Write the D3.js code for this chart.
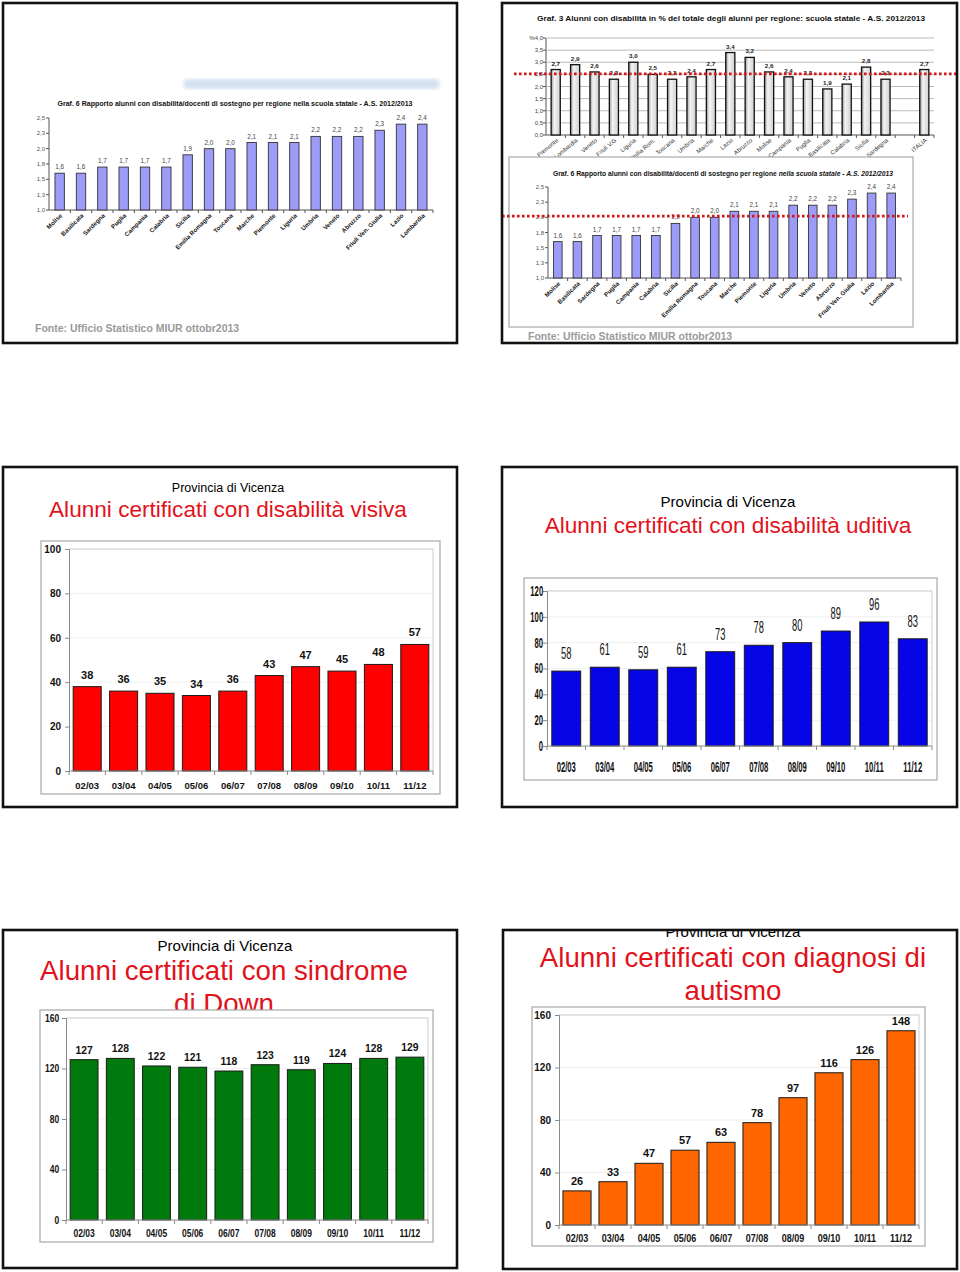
<!DOCTYPE html>
<html><head><meta charset="utf-8">
<script src="https://cdn.jsdelivr.net/npm/d3@7"></script>
<style>
body{margin:0;background:#fff}
svg{display:block}
text{font-family:"Liberation Sans",Arial,Helvetica,sans-serif}
</style>
</head><body>
<svg id="c" width="960" height="1272"></svg>
<script>
// ---------- DATA ----------
const regionsRatio = ["Molise","Basilicata","Sardegna","Puglia","Campania","Calabria","Sicilia","Emilia Romagna","Toscana","Marche","Piemonte","Liguria","Umbria","Veneto","Abruzzo","Friuli Ven. Giulia","Lazio","Lombardia"];
const ratioValues = [1.6,1.6,1.7,1.7,1.7,1.7,1.9,2.0,2.0,2.1,2.1,2.1,2.2,2.2,2.2,2.3,2.4,2.4];
const ratioTicks = [1.0,1.25,1.5,1.75,2.0,2.25,2.5];
const ratioRefLine = 2.02;

const regionsPct = ["Piemonte","Lombardia","Veneto","Friuli V.G","Liguria","Emilia Rom.","Toscana","Umbria","Marche","Lazio","Abruzzo","Molise","Campania","Puglia","Basilicata","Calabria","Sicilia","Sardegna","","ITALIA"];
const pctValues = [2.7,2.9,2.6,2.3,3.0,2.5,2.3,2.4,2.7,3.4,3.2,2.6,2.4,2.3,1.9,2.1,2.8,2.3,null,2.7];
const pctTicks = [0,0.5,1.0,1.5,2.0,2.5,3.0,3.5,4.0];
const pctRefLine = 2.52;

const years = ["02/03","03/04","04/05","05/06","06/07","07/08","08/09","09/10","10/11","11/12"];
const visiva  = [38,36,35,34,36,43,47,45,48,57];
const uditiva = [58,61,59,61,73,78,80,89,96,83];
const down    = [127,128,122,121,118,123,119,124,128,129];
const autismo = [26,33,47,57,63,78,97,116,126,148];

const titleRatio = "Graf. 6 Rapporto alunni con disabilità/docenti di sostegno per regione nella scuola statale - A.S. 2012/2013";
const titlePct = "Graf. 3 Alunni con disabilità in % del totale degli alunni per regione: scuola statale - A.S. 2012/2013";
const fonte = "Fonte: Ufficio Statistico MIUR ottobr2013";
const provincia = "Provincia di Vicenza";

// ---------- HELPERS ----------
const svg = d3.select("#c");
const defs = svg.append("defs");
const it = d3.formatLocale({decimal:",",thousands:".",grouping:[3],currency:["€",""]});
const f1 = it.format(".1f");
let clipN = 0;
const borders = [];

defs.append("filter").attr("id","blur").append("feGaussianBlur").attr("stdDeviation",2);
const grad = defs.append("linearGradient").attr("id","gbar").attr("x1","0").attr("x2","1").attr("y1","0").attr("y2","0");
grad.append("stop").attr("offset","0").attr("stop-color","#9a9a9a");
grad.append("stop").attr("offset","0.35").attr("stop-color","#f4f4f4");
grad.append("stop").attr("offset","1").attr("stop-color","#cfcfcf");

function panel(x0,y0,x1,y1){
  const id = "clip"+(clipN++);
  defs.append("clipPath").attr("id",id).append("rect").attr("x",x0).attr("y",y0).attr("width",x1-x0).attr("height",y1-y0);
  svg.append("rect").attr("x",x0).attr("y",y0).attr("width",x1-x0).attr("height",y1-y0).attr("fill","#fff");
  borders.push([x0,y0,x1,y1]);
  return svg.append("g").attr("clip-path",`url(#${id})`);
}

function txt(g,x,y,s,size,opts={}){
  const t = g.append("text").attr("x",x).attr("y",y).attr("font-size",size).text(s)
    .attr("text-anchor",opts.anchor||"middle").attr("fill",opts.fill||"#000");
  if(opts.weight) t.attr("font-weight",opts.weight);
  if(opts.len) t.attr("textLength",opts.len).attr("lengthAdjust","spacingAndGlyphs");
  return t;
}

// Excel-style yearly chart
function yearChart(g,o){
  const bx = o.box, p = o.plot;
  g.append("rect").attr("x",bx[0]).attr("y",bx[1]).attr("width",bx[2]-bx[0]).attr("height",bx[3]-bx[1])
    .attr("fill","#fff").attr("stroke","#a8a8a8").attr("stroke-width",1.2);
  const x = d3.scaleBand().domain(years).range([p[0],p[2]]).paddingInner(o.pad).paddingOuter(o.pad/2);
  const y = d3.scaleLinear().domain([0,o.max]).range([p[3],p[1]]);
  const ticks = d3.range(0,o.max+1e-9,o.step);
  g.selectAll(null).data(ticks.slice(1)).join("line")
    .attr("x1",p[0]).attr("x2",p[2]).attr("y1",d=>y(d)).attr("y2",d=>y(d)).attr("stroke","#efefef");
  g.append("path").attr("d",`M${p[0]},${p[1]}H${p[2]}V${p[3]}`).attr("fill","none").attr("stroke","#cfcfcf");
  g.selectAll(null).data(o.values).join("rect")
    .attr("x",(d,i)=>x(years[i])).attr("y",d=>y(d))
    .attr("width",x.bandwidth()).attr("height",d=>y(0)-y(d))
    .attr("fill",o.color).attr("stroke","#1a1a1a").attr("stroke-width",1);
  const ay = g.append("g").attr("transform",`translate(${p[0]},0)`)
    .call(d3.axisLeft(y).tickValues(ticks).tickSize(4).tickPadding(o.tickPad||4).tickFormat(d3.format("d")));
  ay.select(".domain").attr("stroke","#8a8a8a");
  ay.selectAll(".tick line").attr("stroke","#8a8a8a");
  ay.selectAll("text").attr("font-size",o.tickFont).attr("font-weight","bold").attr("fill","#111")
    .attr("font-family","Liberation Sans, Arial, sans-serif");
  if(o.sx) ay.selectAll("text").attr("transform",`scale(${o.sx},1)`);
  const ax = g.append("g");
  ax.append("line").attr("x1",p[0]).attr("x2",p[2]).attr("y1",p[3]).attr("y2",p[3]).attr("stroke","#8a8a8a");
  const bounds = years.map(d=>x(d)-x.step()*o.pad/2).concat([p[2]]);
  ax.selectAll(null).data(bounds).join("line").attr("x1",d=>d).attr("x2",d=>d)
    .attr("y1",p[3]).attr("y2",p[3]+4).attr("stroke","#8a8a8a");
  const vsx = o.vsx||1, xsx = o.xsx||1;
  g.selectAll(null).data(years).join("text")
    .attr("transform",d=>`translate(${x(d)+x.bandwidth()/2},${o.xLabelY}) scale(${xsx},1)`)
    .attr("text-anchor","middle").attr("font-size",o.xFont).attr("font-weight","bold").attr("fill","#111")
    .text(d=>d);
  g.selectAll(null).data(o.values).join("text")
    .attr("transform",(d,i)=>`translate(${x(years[i])+x.bandwidth()/2},${y(d)-o.valGap}) scale(${vsx},1)`)
    .attr("text-anchor","middle").attr("font-size",o.valFont).attr("font-weight",o.valWeight||"bold").attr("fill","#111")
    .text(d=>d);
}

// regional ratio chart (Graf. 6)
function ratioChart(g,o){
  const x = d3.scaleBand().domain(regionsRatio).range(o.xr).paddingInner(0.56).paddingOuter(0.28);
  const y = d3.scaleLinear().domain([1,2.5]).range(o.yr);
  g.append("line").attr("x1",o.xr[0]).attr("x2",o.xr[0]).attr("y1",o.yr[0]).attr("y2",o.yr[1]).attr("stroke","#555");
  g.append("line").attr("x1",o.xr[0]).attr("x2",o.xr[1]).attr("y1",o.yr[0]).attr("y2",o.yr[0]).attr("stroke","#555");
  g.selectAll(null).data(ratioTicks).join("line").attr("x1",o.xr[0]-3).attr("x2",o.xr[0])
    .attr("y1",d=>y(d)).attr("y2",d=>y(d)).attr("stroke","#555");
  g.selectAll(null).data(ratioTicks).join("text").attr("x",o.xr[0]-4).attr("y",d=>y(d)+2)
    .attr("text-anchor","end").attr("font-size",6).attr("fill","#555").text(d=>f1(d));
  const bounds = regionsRatio.map(d=>x(d)-x.step()*0.28).concat([o.xr[1]]);
  g.selectAll(null).data(bounds.slice(1)).join("line").attr("x1",d=>d).attr("x2",d=>d)
    .attr("y1",o.yr[0]).attr("y2",o.yr[0]+3).attr("stroke","#555");
  g.selectAll(null).data(ratioValues).join("rect")
    .attr("x",(d,i)=>x(regionsRatio[i])).attr("y",d=>y(d)).attr("width",x.bandwidth())
    .attr("height",d=>y(1)-y(d)).attr("fill","#9c9cf8").attr("stroke","#333").attr("stroke-width",0.9);
  g.selectAll(null).data(ratioValues).join("text")
    .attr("x",(d,i)=>x(regionsRatio[i])+x.bandwidth()/2).attr("y",d=>y(d)-4)
    .attr("text-anchor","middle").attr("font-size",6.3).attr("fill","#444").text(d=>f1(d));
  g.selectAll(null).data(regionsRatio).join("text")
    .attr("transform",d=>`translate(${x(d)+x.bandwidth()/2+3},${o.yr[0]+6}) rotate(-45)`)
    .attr("text-anchor","end").attr("font-size",6.2).attr("font-weight","bold").attr("fill","#222").text(d=>d);
  return y;
}

// ---------- PANEL 1 (top-left) ----------
{
  const g = panel(3,3,457,343);
  g.append("rect").attr("x",184).attr("y",79).attr("width",255).attr("height",10)
    .attr("fill","#d3e0f0").attr("filter","url(#blur)");
  txt(g,235,106,titleRatio,7,{weight:"bold",len:355,fill:"#111"});
  ratioChart(g,{xr:[49,433],yr:[210,118]});
  txt(g,35,332,fonte,10.5,{anchor:"start",weight:"bold",fill:"#9a9a9a"});
}

// ---------- PANEL 2 (top-right) ----------
{
  const g = panel(502,3,957,343);
  txt(g,731,21,titlePct,8,{weight:"bold",len:388,fill:"#111"});
  const x = d3.scaleBand().domain(regionsPct).range([546,934]).paddingInner(0.53).paddingOuter(0.265);
  const y = d3.scaleLinear().domain([0,4]).range([135,38]);
  g.selectAll(null).data(pctTicks.slice(1)).join("line").attr("x1",547).attr("x2",934)
    .attr("y1",d=>y(d)).attr("y2",d=>y(d)).attr("stroke","#a8a8a8").attr("stroke-width",0.8);
  g.append("line").attr("x1",546).attr("x2",546).attr("y1",135).attr("y2",38).attr("stroke","#555");
  g.append("line").attr("x1",546).attr("x2",934).attr("y1",135).attr("y2",135).attr("stroke","#555");
  g.selectAll(null).data(pctTicks).join("line").attr("x1",543).attr("x2",546)
    .attr("y1",d=>y(d)).attr("y2",d=>y(d)).attr("stroke","#555");
  g.selectAll(null).data(pctTicks).join("text").attr("x",543).attr("y",d=>y(d)+2)
    .attr("text-anchor","end").attr("font-size",6).attr("fill","#444")
    .text(d=>d===4?"%4,0":f1(d));
  const bounds = regionsPct.map(d=>x(d)-x.step()*0.265).concat([934]);
  g.selectAll(null).data(bounds.slice(1)).join("line").attr("x1",d=>d).attr("x2",d=>d)
    .attr("y1",135).attr("y2",138).attr("stroke","#555");
  const pd = pctValues.map((v,i)=>({c:regionsPct[i],v})).filter(d=>d.v!=null);
  g.selectAll(null).data(pd).join("rect").attr("x",d=>x(d.c)).attr("y",d=>y(d.v))
    .attr("width",x.bandwidth()).attr("height",d=>y(0)-y(d.v))
    .attr("fill","url(#gbar)").attr("stroke","#111").attr("stroke-width",1.3);
  g.selectAll(null).data(pd).join("text").attr("x",d=>x(d.c)+x.bandwidth()/2).attr("y",d=>y(d.v)-4)
    .attr("text-anchor","middle").attr("font-size",6.2).attr("font-weight","bold").attr("fill","#222").text(d=>f1(d.v));
  g.selectAll(null).data(regionsPct.filter(d=>d)).join("text")
    .attr("transform",d=>`translate(${x(d)+x.bandwidth()/2+3},${141}) rotate(-40)`)
    .attr("text-anchor","end").attr("font-size",6).attr("fill","#333").text(d=>d);
  g.append("line").attr("x1",514).attr("x2",957).attr("y1",y(pctRefLine)).attr("y2",y(pctRefLine))
    .attr("stroke","#d11a1a").attr("stroke-width",2.6).attr("stroke-dasharray","2.6,2.4");

  g.append("rect").attr("x",509).attr("y",157).attr("width",404).attr("height",170)
    .attr("fill","#fff").attr("stroke","#9a9a9a").attr("stroke-width",1);
  const t = g.append("text").attr("x",723).attr("y",176).attr("text-anchor","middle")
    .attr("font-size",7).attr("font-weight","bold").attr("fill","#111")
    .attr("textLength",340).attr("lengthAdjust","spacingAndGlyphs");
  t.append("tspan").text("Graf. 6 Rapporto alunni con disabilità/docenti di sostegno per regione ");
  t.append("tspan").attr("font-style","italic").text("nella scuola statale - A.S. 2012/2013");
  const y2 = ratioChart(g,{xr:[548,901],yr:[278,187]});
  g.append("line").attr("x1",502).attr("x2",908).attr("y1",y2(ratioRefLine)).attr("y2",y2(ratioRefLine))
    .attr("stroke","#d11a1a").attr("stroke-width",2.6).attr("stroke-dasharray","2.6,2.4");
  txt(g,528,340,fonte,10.5,{anchor:"start",weight:"bold",fill:"#9a9a9a"});
}

// ---------- PANEL 3 (visiva) ----------
{
  const g = panel(3,467,457,807);
  txt(g,228,492,provincia,12.5);
  txt(g,228,517,"Alunni certificati con disabilità visiva",22.6,{fill:"#e2121b"});
  yearChart(g,{values:visiva,box:[41,541,440,794],plot:[69,549,433,771],max:100,step:20,pad:0.23,
    color:"#ff0000",tickFont:10,xFont:9.5,xLabelY:789,valFont:11,valGap:8});
}

// ---------- PANEL 4 (uditiva) ----------
{
  const g = panel(502,467,957,807);
  txt(g,728,507,provincia,15);
  txt(g,728,533,"Alunni certificati con disabilità uditiva",22.6,{fill:"#e2121b"});
  yearChart(g,{values:uditiva,box:[524,578,937,780],plot:[547,591,932,746],max:120,step:20,pad:0.25,
    color:"#0505e6",tickFont:14,sx:0.55,tickPad:3,xFont:14,xsx:0.55,xLabelY:772,valFont:17,vsx:0.55,valGap:12,valWeight:"normal"});
}

// ---------- PANEL 5 (Down) ----------
{
  const g = panel(3,930,457,1268);
  txt(g,225,951,provincia,15);
  txt(g,224,980,"Alunni certificati con sindrome",27.7,{fill:"#e2121b"});
  txt(g,224,1013,"di Down",27.7,{fill:"#e2121b"});
  yearChart(g,{values:down,box:[40,1010,433,1242],plot:[66,1018,428,1220],max:160,step:40,pad:0.23,
    color:"#007a0c",tickFont:10,sx:0.85,xFont:10,xsx:0.85,xLabelY:1237,valFont:11.5,vsx:0.9,valGap:6});
}

// ---------- PANEL 6 (autismo) ----------
{
  const g = panel(503,930,957,1269);
  txt(g,733,937,provincia,15);
  txt(g,733,967,"Alunni certificati con diagnosi di",27.7,{fill:"#e2121b"});
  txt(g,733,1000,"autismo",27.7,{fill:"#e2121b"});
  yearChart(g,{values:autismo,box:[532,1007,925,1246],plot:[559,1015,919,1225],max:160,step:40,pad:0.22,
    color:"#ff6600",tickFont:10,xFont:10,xsx:0.9,xLabelY:1242,valFont:11,valGap:6});
}

// ---------- borders ----------
borders.forEach(([x0,y0,x1,y1])=>{
  svg.append("rect").attr("x",x0).attr("y",y0).attr("width",x1-x0).attr("height",y1-y0)
    .attr("fill","none").attr("stroke","#111").attr("stroke-width",2.6);
});
</script>
</body></html>
